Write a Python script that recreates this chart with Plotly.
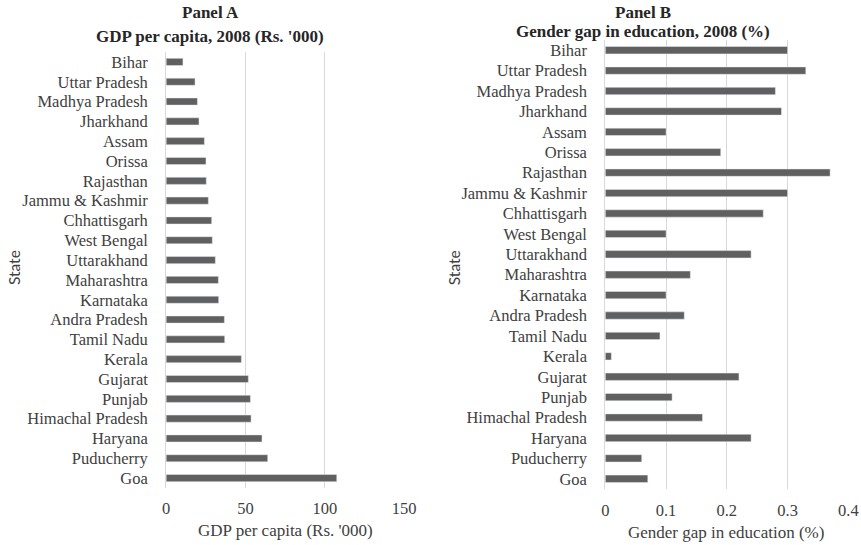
import plotly.graph_objects as go

states = ["Bihar", "Uttar Pradesh", "Madhya Pradesh", "Jharkhand", "Assam", "Orissa",
          "Rajasthan", "Jammu & Kashmir", "Chhattisgarh", "West Bengal", "Uttarakhand",
          "Maharashtra", "Karnataka", "Andra Pradesh", "Tamil Nadu", "Kerala", "Gujarat",
          "Punjab", "Himachal Pradesh", "Haryana", "Puducherry", "Goa"]
states_b = list(states)

gdp = [10.6, 18.2, 19.7, 20.7, 24.1, 25.1, 25.3, 26.6, 28.7, 29.1, 31.0,
       32.9, 33.1, 36.7, 36.9, 47.4, 51.8, 53.1, 53.5, 60.4, 64.0, 107.5]
gap = [0.30, 0.33, 0.28, 0.29, 0.10, 0.19, 0.37, 0.30, 0.26, 0.10, 0.24,
       0.14, 0.10, 0.13, 0.09, 0.01, 0.22, 0.11, 0.16, 0.24, 0.06, 0.07]

gdp_ticks = [0, 50, 100, 150]
gap_ticks = [0, 0.1, 0.2, 0.3, 0.4]
gap_ticklabels = ["0", "0.1", "0.2", "0.3", "0.4"]

# measured horizontal mapping of the capture: screen_x = SA * fig_x + SB
SA, SB = 0.9814, 3.9
W, H = 873, 545
BAR = "#606060"
GRID = "#d9d9d9"
SERIF = "Liberation Serif"
SANS = "Lato"
TXT = "#404040"

def fx(sx):
    return ((sx - SB) / SA) / W

def fy(py):
    return 1 - py / H

fig = go.Figure()
fig.add_trace(go.Bar(x=gdp, y=states, orientation="h", marker_color=BAR,
                     xaxis="x", yaxis="y", showlegend=False))
fig.add_trace(go.Bar(x=gap, y=states_b, orientation="h", marker_color=BAR,
                     xaxis="x2", yaxis="y2", showlegend=False))

axis_common = dict(showgrid=True, gridcolor=GRID, gridwidth=1, zeroline=False,
                   showline=False, ticks="", tickfont=dict(family=SERIF, size=16.5, color=TXT))
ycommon = dict(categoryorder="array", autorange="reversed", showgrid=False, zeroline=False,
               showline=True, linecolor=GRID, linewidth=1, ticks="", tickmode="array",
               ticklabelstandoff=14, tickfont=dict(family=SERIF, size=16.5, color=TXT))
fig.update_layout(
    width=W, height=H, autosize=False,
    margin=dict(l=0, r=0, t=0, b=0),
    paper_bgcolor="white", plot_bgcolor="white",
    bargap=0.64,
    xaxis=dict(domain=[fx(166), fx(404)], range=[0, 150], tickvals=gdp_ticks,
               anchor="y", ticklabelstandoff=8, **axis_common),
    yaxis=dict(domain=[fy(488), fy(52)], categoryarray=states, tickvals=states,
               ticktext=states, anchor="x", **ycommon),
    xaxis2=dict(domain=[fx(605), fx(848)], range=[0, 0.4], tickvals=gap_ticks,
                ticktext=gap_ticklabels, anchor="y2", ticklabelstandoff=9, **axis_common),
    yaxis2=dict(domain=[fy(489), fy(40)], categoryarray=states_b, tickvals=states_b,
                ticktext=states_b, anchor="x2", **ycommon),
)

def ann(text, x, y, font, size, color=TXT, bold=False, angle=0):
    fig.add_annotation(text=f"<b>{text}</b>" if bold else text, x=fx(x), y=fy(y),
                       xref="paper", yref="paper", showarrow=False, textangle=angle,
                       xanchor="center", yanchor="middle",
                       font=dict(family=font, size=size, color=color))

ann("Panel A", 210, 12, SERIF, 17, "#262626", True)
ann("GDP per capita, 2008 (Rs. '000)", 210, 36, SERIF, 17, "#262626", True)
ann("Panel B", 643, 13, SERIF, 17, "#262626", True)
ann("Gender gap in education, 2008 (%)", 643, 31, SERIF, 17, "#262626", True)
ann("GDP per capita (Rs. '000)", 285, 530, SERIF, 17)
ann("Gender gap in education (%)", 726, 532, SERIF, 17)
ann("State", 14, 268, SANS, 15.5, angle=-90)
ann("State", 454, 268, SANS, 15.5, angle=-90)

fig.write_html(
    "out.html",
    config={"responsive": False, "displayModeBar": False, "staticPlot": True},
    post_script=("document.documentElement.style.overflow='hidden';"
                 "document.body.style.margin='0';"
                 "document.body.style.overflow='hidden';"),
)
